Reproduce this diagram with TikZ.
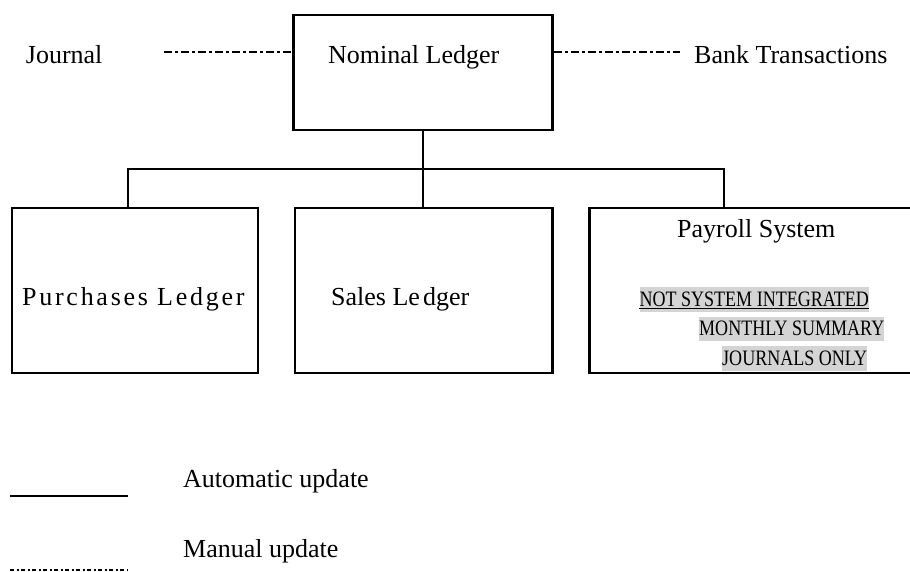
\documentclass[tikz,border=0pt]{standalone}
\usepackage{fontspec}
\setmainfont{Liberation Serif}
\newfontfamily\condfont[FakeStretch=0.82]{Liberation Serif}
\newfontfamily\widefont[LetterSpace=10.5]{Liberation Serif}
\definecolor{hl}{RGB}{212,212,212}
\tikzset{
  box/.style={draw=black, line width=2.2pt, rectangle, inner sep=0pt},
  auto/.style={line width=2.2pt},
  manual/.style={line width=2pt, dash pattern=on 8pt off 3pt on 3pt off 3pt},
  manleg/.style={line width=2pt, dash pattern=on 4pt off 2.5pt on 2pt off 2.5pt},
  lbl/.style={anchor=base west, inner sep=0pt, font=\fontsize{26}{30}\selectfont},
  hlt/.style={anchor=base west, inner xsep=0pt, inner ysep=0pt, fill=hl,
     text height=18.7pt, text depth=5.7pt, font=\condfont\fontsize{22}{25}\selectfont}
}
\begin{document}
\begin{tikzpicture}[x=1pt,y=-1pt]
\useasboundingbox (0,0) rectangle (910,572);
\clip (0,0) rectangle (910,572);
% boxes
\node[box, minimum width=259pt, minimum height=115.3pt] (nom) at (423,72.35) {};
\node[box, minimum width=246.3pt, minimum height=165pt] (pur) at (134.85,290.2) {};
\node[box, minimum width=257.5pt, minimum height=165pt] (sal) at (423.75,290.2) {};
\node[box, minimum width=325.5pt, minimum height=165pt] (pay) at (752.25,290.2) {};
% labels
\node[lbl] (tj) at (25.7,64) {Journal};
\node[lbl] (tn) at (328,64) {Nominal Ledger};
\node[lbl] (tb) at (694,64) {Bank Transactions};
\node[lbl] (tp) at (22,305) {\widefont Purchases Ledger};
\node[lbl] (ts) at (331,305) {Sales Le\kern3pt dger};
\node[lbl] (ty) at (677,237) {Payroll System};
\node[hlt] (h1) at (639.3,306) {NOT SYSTEM INTEGRATED};
\draw[line width=1pt] (h1.base west) ++(0,2.3) -- ([yshift=-2.3pt]h1.base east);
\node[hlt] (h2) at (699,335.5) {MONTHLY SUMMARY};
\node[hlt] (h3) at (722,365) {JOURNALS ONLY};
% connectors
\coordinate (j1) at (128,169);
\coordinate (j2) at (724,169);
\draw[auto] (nom.south) -- (nom.south |- sal.north);
\draw[auto] (pur.north -| j1) -- (j1) -- (j2) -- (j2 |- pay.north);
\coordinate (jl) at (164,52);
\coordinate (bl) at (680,52);
\draw[manual] (jl) -- (jl -| nom.west);
\draw[manual] (nom.east |- bl) -- (bl);
% legend
\coordinate (la1) at (10,495.7);
\coordinate (la2) at (128,495.7);
\coordinate (lm1) at (10,570);
\coordinate (lm2) at (128,570);
\draw[auto] (la1) -- (la2);
\draw[manleg] (lm1) -- (lm2);
\node[lbl] (ta) at (183,487) {Automatic update};
\node[lbl] (tm) at (183,557) {Manual update};
\end{tikzpicture}
\end{document}
